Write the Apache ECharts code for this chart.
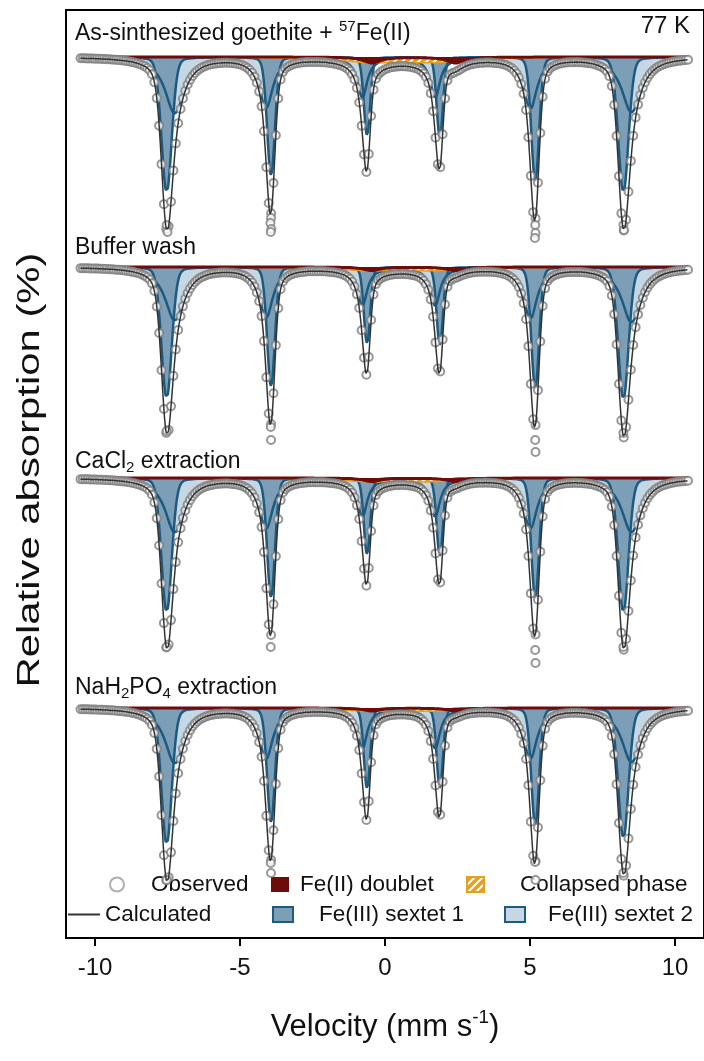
<!DOCTYPE html>
<html>
<head>
<meta charset="utf-8">
<script src="https://cdn.jsdelivr.net/npm/echarts@6/dist/echarts.min.js"></script>
<style>
  html, body { margin: 0; padding: 0; background: #fff; }
  #chart { width: 704px; height: 1061px; }
</style>
</head>
<body>
<div id="chart"></div>
<script>
// --- data (velocity in mm/s, absorption in %) ---
const velocityTicks = [-10, -5, 0, 5, 10];
const panelNames = [
  'As-sinthesized goethite + {sup|57}Fe(II)',
  'Buffer wash',
  'CaCl{sub|2} extraction',
  'NaH{sub|2}PO{sub|4} extraction'
];
const temperatureLabel = '77 K';

// Fe(III) sextet 1 (sharp, deep, mostly gaussian)
const sextet1Centers = [-7.53, -3.93, -0.62, 1.89, 5.18, 8.22];
const sextet1Hwhm = [0.21, 0.16, 0.13, 0.13, 0.16, 0.21];
const sextet1Lorentz = 0.15;
const sextet1Depth = [
  [13.5, 11.8, 7.8, 8.0, 12.4, 13.5],
  [13.1, 11.9, 7.6, 7.8, 12.1, 13.2],
  [13.4, 11.9, 7.6, 7.8, 12.0, 13.4],
  [13.6, 11.4, 8.0, 8.0, 11.7, 13.0]
];
// Fe(III) sextet 2 (broad, shallow, lorentzian)
const sextet2Centers = [-7.25, -4.10, -0.78, 1.73, 5.01, 8.50];
const sextet2Hwhm = [0.40, 0.28, 0.2, 0.2, 0.28, 0.40];
const sextet2Lorentz = 1;
const sextet2Depth = [
  [5.6, 5.0, 4.0, 4.0, 5.1, 5.5],
  [5.3, 5.0, 3.8, 3.8, 5.1, 5.5],
  [5.4, 5.0, 3.8, 3.8, 5.0, 5.4],
  [5.5, 5.0, 4.0, 4.0, 5.0, 5.4]
];
// Fe(II) doublet
const doubletCenters = [-0.45, 2.43];
const doubletHwhm = 0.35;
const doubletDepth = [0.6, 0.35, 0.35, 0.3];
// collapsed phase
const collapsedCenters = [-0.5, 1.6];
const collapsedHwhm = 1.3;
const collapsedDepth = [0.45, 0.3, 0.3, 0.25];

// observed channels
const velocityStart = -10.5;
const velocityEnd = 10.45;
const channels = 256;
// deepest observed points under the outer lines [velocity, absorption %]
const bottomPoints = [
  [[-7.53, 16.8], [-7.50, 17.5], [-3.93, 16.1], [-3.95, 16.6], [-3.92, 17.2], [-3.94, 17.5], [5.18, 16.8], [5.19, 17.6], [5.17, 18.1], [8.22, 16.8], [8.24, 17.3]],
  [[-7.53, 16.4], [-3.94, 16.0], [-3.93, 17.3], [5.18, 17.3], [5.19, 18.5], [8.22, 16.6]],
  [[-7.53, 16.9], [-3.94, 16.9], [5.18, 17.2], [5.19, 18.5], [8.22, 16.9]],
  [[-7.53, 17.2], [-3.94, 15.5], [-3.93, 16.5], [5.18, 15.4], [5.19, 17.2], [8.22, 16.5]]
];

// --- layout ---
const panelBaseline = [-4.7, -25.7, -46.8, -69.8];
const FONT = '"Liberation Sans", Arial, sans-serif';
const BLUE_LINE = '#1d5a80';
const S1_FILL = '#7c9eb7';
const S2_FILL = '#c5d7e3';
const RED = '#6e0b0b';
const ORANGE = '#e6a11c';
const TEXT = '#111';

function profile(v, c, w, d, eta) {
  const t = (v - c) / w;
  return d * (eta / (1 + t * t) + (1 - eta) * Math.exp(-Math.LN2 * t * t));
}
function sumLines(v, centers, hw, depths, eta) {
  let s = 0;
  for (let i = 0; i < centers.length; i++) {
    s += profile(v, centers[i], Array.isArray(hw) ? hw[i] : hw, Array.isArray(depths) ? depths[i] : depths, eta);
  }
  return s;
}

const hatch = document.createElement('canvas');
hatch.width = 8; hatch.height = 8;
const hg = hatch.getContext('2d');
hg.fillStyle = ORANGE;
hg.fillRect(0, 0, 8, 8);
hg.strokeStyle = '#fff';
hg.lineWidth = 2;
hg.beginPath();
hg.moveTo(0, 8); hg.lineTo(8, 0);
hg.moveTo(-2, 2); hg.lineTo(2, -2);
hg.moveTo(6, 10); hg.lineTo(10, 6);
hg.stroke();
const hatchFill = { image: hatch, repeat: 'repeat' };

const fineGrid = [];
for (let v = velocityStart; v <= velocityEnd + 1e-9; v += 0.01) fineGrid.push(v);
const channelGrid = [];
for (let i = 0; i < channels; i++) channelGrid.push(velocityStart + (velocityEnd - velocityStart) * i / (channels - 1));

const series = [];
panelBaseline.forEach((base, p) => {
  const comp = v => {
    const s1 = sumLines(v, sextet1Centers, sextet1Hwhm, sextet1Depth[p], sextet1Lorentz);
    const s2 = sumLines(v, sextet2Centers, sextet2Hwhm, sextet2Depth[p], sextet2Lorentz);
    const db = sumLines(v, doubletCenters, doubletHwhm, doubletDepth[p], 1);
    const cp = sumLines(v, collapsedCenters, collapsedHwhm, collapsedDepth[p], 1);
    return { s1, s2, db, cp, total: s1 + s2 + db + cp };
  };
  const fine = fineGrid.map(v => [v, comp(v)]);

  series.push({
    name: 'Fe(III) sextet 2', type: 'line', symbol: 'none', silent: true, z: 1,
    data: fine.map(([v, c]) => [v, base - c.s2]),
    lineStyle: { width: 0 },
    areaStyle: { color: S2_FILL, opacity: 1, origin: base }
  });
  series.push({
    name: 'Fe(III) sextet 1', type: 'line', symbol: 'none', silent: true, z: 2,
    data: fine.map(([v, c]) => [v, base - c.s1]),
    lineStyle: { width: 0 },
    areaStyle: { color: S1_FILL, opacity: 1, origin: base }
  });
  series.push({
    name: 'Fe(III) sextet 2', type: 'line', symbol: 'none', silent: true, z: 3,
    data: fine.map(([v, c]) => [v, base - c.s2]),
    lineStyle: { color: BLUE_LINE, width: 2.5 }
  });
  series.push({
    name: 'Fe(III) sextet 1', type: 'line', symbol: 'none', silent: true, z: 3,
    data: fine.map(([v, c]) => [v, base - c.s1]),
    lineStyle: { color: BLUE_LINE, width: 2.5 }
  });
  series.push({
    name: 'Collapsed phase', type: 'line', symbol: 'none', silent: true, z: 4,
    data: fine.map(([v, c]) => [v, base - c.cp]),
    lineStyle: { color: ORANGE, width: 1.5 },
    itemStyle: { color: ORANGE },
    areaStyle: { color: hatchFill, opacity: 1, origin: base }
  });
  series.push({
    name: 'Fe(II) doublet', type: 'line', symbol: 'none', silent: true, z: 5,
    data: fine.map(([v, c]) => [v, base - c.db]),
    lineStyle: { color: RED, width: 3 },
    itemStyle: { color: RED },
    areaStyle: { color: RED, opacity: 1, origin: base }
  });
  const obs = channelGrid.map(v => [v, base - comp(v).total])
    .concat(bottomPoints[p].map(([v, d]) => [v, base - d]));
  series.push({
    name: 'Observed', type: 'scatter', symbol: 'emptyCircle', symbolSize: 8, silent: true, z: 6,
    data: obs,
    itemStyle: { color: '#7d7d7d', borderWidth: 1 }
  });
  series.push({
    name: 'Calculated', type: 'line', symbol: 'none', silent: true, z: 7,
    data: fine.map(([v, c]) => [v, base - c.total]),
    lineStyle: { color: '#333', width: 1.5 },
    itemStyle: { color: '#333' }
  });
});

const titleTop = [19, 236, 448, 674];
const richText = {
  sup: { fontSize: 15, fontFamily: FONT, color: TEXT, padding: [0, 0, 14, 0] },
  sub: { fontSize: 15, fontFamily: FONT, color: TEXT, padding: [12, 0, 0, 0] }
};
const titles = panelNames.map((t, i) => ({
  text: t, left: 75, top: titleTop[i], padding: 0,
  textStyle: { fontSize: 23, fontWeight: 'normal', color: TEXT, fontFamily: FONT, rich: richText }
}));
titles.push({
  text: temperatureLabel, right: 14, top: 14, padding: 0,
  textStyle: { fontSize: 24, fontWeight: 'normal', color: TEXT, fontFamily: FONT }
});

const legendText = pad => ({ fontSize: 22.5, color: TEXT, fontFamily: FONT, padding: [0, 0, 0, pad] });
const legendBase = { orient: 'horizontal', padding: 0, selectedMode: false };

const option = {
  animation: false,
  backgroundColor: '#fff',
  title: titles,
  grid: { left: 66, top: 10, width: 640, height: 928, show: true, borderColor: '#000', borderWidth: 2 },
  xAxis: {
    type: 'value', min: -11, max: 11,
    axisLine: { show: true, onZero: false, lineStyle: { color: '#000', width: 2 } },
    axisTick: { show: true, customValues: velocityTicks, length: 8, lineStyle: { color: '#000', width: 2 } },
    axisLabel: { customValues: velocityTicks, fontSize: 24, color: TEXT, margin: 18, fontFamily: FONT },
    splitLine: { show: false },
    name: 'Velocity (mm s{sup|-1})', nameLocation: 'middle', nameGap: 70,
    nameTextStyle: {
      fontSize: 31, color: TEXT, fontFamily: FONT,
      rich: { sup: { fontSize: 19, fontFamily: FONT, color: TEXT, padding: [0, 0, 20, 0] } }
    }
  },
  yAxis: {
    type: 'value', min: -92.8, max: 0,
    axisLine: { show: true, onZero: false, lineStyle: { color: '#000', width: 2 } },
    axisTick: { show: false }, axisLabel: { show: false }, splitLine: { show: false }
  },
  graphic: [{
    type: 'text', x: 30, y: 470, rotation: Math.PI / 2, scaleX: 1.35, silent: true,
    style: { text: 'Relative absorption (%)', fontSize: 31, fontFamily: FONT, fill: TEXT, align: 'center', verticalAlign: 'middle' }
  }],
  legend: [
    Object.assign({}, legendBase, { left: 109, top: 873, itemWidth: 14, itemHeight: 14,
      data: [{ name: 'Observed', icon: 'emptyCircle', itemStyle: { color: '#9a9a9a', borderColor: '#9a9a9a', borderWidth: 1 } }],
      textStyle: legendText(22) }),
    Object.assign({}, legendBase, { left: 271, top: 873, itemWidth: 18, itemHeight: 15,
      data: [{ name: 'Fe(II) doublet', icon: 'rect', itemStyle: { color: RED, borderWidth: 0 } }],
      textStyle: legendText(6) }),
    Object.assign({}, legendBase, { left: 466, top: 873, itemWidth: 17, itemHeight: 15,
      data: [{ name: 'Collapsed phase', icon: 'rect', itemStyle: { color: hatchFill, borderColor: ORANGE, borderWidth: 2 } }],
      textStyle: legendText(31) }),
    Object.assign({}, legendBase, { left: 68, top: 903, itemWidth: 32, itemHeight: 2,
      data: [{ name: 'Calculated', icon: 'rect', itemStyle: { color: '#333', borderWidth: 0 } }],
      textStyle: legendText(0) }),
    Object.assign({}, legendBase, { left: 272, top: 903, itemWidth: 20, itemHeight: 15,
      data: [{ name: 'Fe(III) sextet 1', icon: 'rect', itemStyle: { color: S1_FILL, borderColor: BLUE_LINE, borderWidth: 2 } }],
      textStyle: legendText(21) }),
    Object.assign({}, legendBase, { left: 504, top: 903, itemWidth: 20, itemHeight: 15,
      data: [{ name: 'Fe(III) sextet 2', icon: 'rect', itemStyle: { color: S2_FILL, borderColor: BLUE_LINE, borderWidth: 2 } }],
      textStyle: legendText(18) })
  ],
  series: series
};

const chart = echarts.init(document.getElementById('chart'));
chart.setOption(option);
</script>
</body>
</html>
